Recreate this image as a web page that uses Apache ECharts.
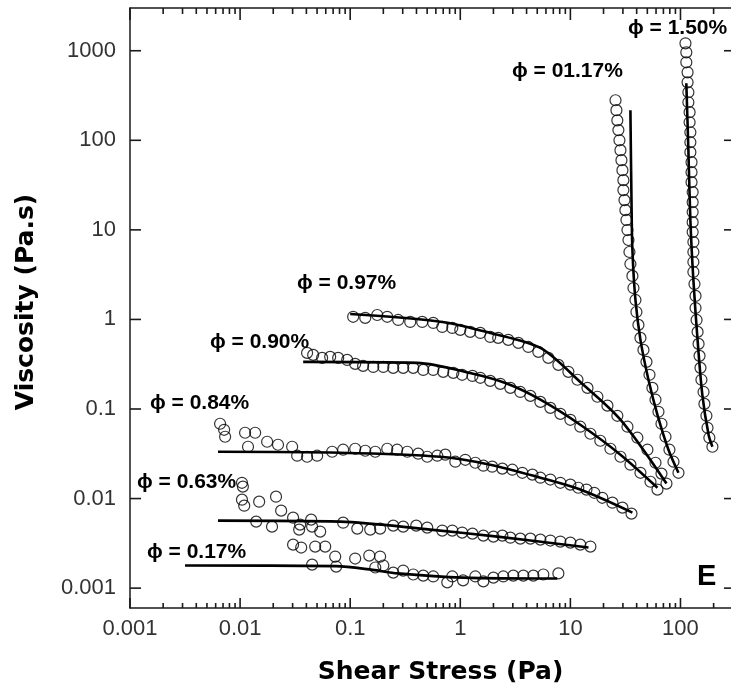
<!DOCTYPE html>
<html>
<head>
<meta charset="utf-8">
<script src="https://cdn.jsdelivr.net/npm/echarts@6/dist/echarts.min.js"></script>
<style>
html, body { margin: 0; padding: 0; background: #fff; }
#chart { width: 731px; height: 694px; }
</style>
</head>
<body>
<div id="chart"></div>
<script>
// shear stress (Pa), viscosity (Pa.s)
var phiLabels = ['\u03d5 = 1.50%', '\u03d5 = 01.17%', '\u03d5 = 0.97%', '\u03d5 = 0.90%', '\u03d5 = 0.84%', '\u03d5 = 0.63%', '\u03d5 = 0.17%'];

var xMajorTicks = [0.001, 0.01, 0.1, 1, 10, 100];
var xMinorTicks = [0.002,0.003,0.004,0.005,0.006,0.007,0.008,0.009,
  0.02,0.03,0.04,0.05,0.06,0.07,0.08,0.09,
  0.2,0.3,0.4,0.5,0.6,0.7,0.8,0.9,
  2,3,4,5,6,7,8,9,
  20,30,40,50,60,70,80,90,
  200];
var yMajorTicks = [0.001, 0.01, 0.1, 1, 10, 100, 1000];

var data017 = [[0.0303,0.00306],[0.0359,0.00284],[0.0481,0.00291],[0.0593,0.00291],[0.0731,0.00225],[0.0451,0.00183],[0.0746,0.00174],[0.111,0.00214],[0.149,0.00231],[0.187,0.00225],[0.169,0.0017],[0.2,0.00179],[0.246,0.00149],[0.303,0.00157],[0.374,0.00142],[0.461,0.00138],[0.568,0.00135],[0.762,0.00116],[0.846,0.00135],[1.06,0.00122],[1.37,0.00135],[1.62,0.00119],[2.0,0.00131],[2.46,0.00135],[3.03,0.00138],[3.74,0.00138],[4.61,0.00138],[5.68,0.00142],[7.78,0.00146]];
var fit017 = [[0.00316,0.00179],[0.0743,0.00176],[0.16,0.0016],[0.27,0.00146],[1.06,0.00131],[7.6,0.00128]];

var data063 = [[0.0104,0.015],[0.0106,0.0136],[0.0104,0.00972],[0.0109,0.00833],[0.0149,0.00923],[0.0212,0.0105],[0.0236,0.00733],[0.014,0.00553],[0.0195,0.00486],[0.0303,0.00612],[0.0351,0.00512],[0.0344,0.0045],[0.0442,0.00582],[0.0451,0.00486],[0.0534,0.00428],[0.0863,0.00538],[0.116,0.00462],[0.152,0.0045],[0.187,0.00462],[0.246,0.00499],[0.303,0.00486],[0.398,0.00499],[0.501,0.00474],[0.686,0.00439],[0.846,0.00439],[1.04,0.00417],[1.29,0.00406],[1.62,0.00386],[2.0,0.00376],[2.41,0.00386],[2.85,0.00366],[3.51,0.00357],[4.33,0.00357],[5.34,0.00348],[6.58,0.0034],[8.11,0.00331],[10,0.00322],[12.3,0.00306],[15.2,0.00291]];
var fit063 = [[0.0063,0.00567],[0.0811,0.00553],[0.533,0.0045],[2.17,0.00376],[14.6,0.00284]];

var data084 = [[0.00658,0.0684],[0.00716,0.0586],[0.00731,0.049],[0.0111,0.0543],[0.0137,0.0543],[0.0118,0.0379],[0.0176,0.0431],[0.0221,0.0399],[0.0297,0.0379],[0.033,0.0301],[0.0406,0.0293],[0.0501,0.0301],[0.0686,0.0333],[0.0863,0.0351],[0.111,0.036],[0.137,0.0342],[0.169,0.0333],[0.217,0.036],[0.267,0.0351],[0.33,0.0333],[0.415,0.0317],[0.501,0.0293],[0.618,0.0301],[0.731,0.0309],[0.901,0.0258],[1.11,0.0271],[1.37,0.0251],[1.62,0.0233],[1.95,0.0227],[2.41,0.0216],[2.97,0.021],[3.66,0.0194],[4.52,0.0185],[5.34,0.0171],[6.58,0.0163],[8.11,0.015],[10,0.0143],[11.8,0.0132],[14.0,0.0126],[16.5,0.0116],[19.5,0.0102],[24.1,0.009],[29.7,0.00792],[35.9,0.00679]];
var fit084 = [[0.0063,0.0333],[0.0811,0.0325],[0.658,0.0293],[1.87,0.0239],[5.34,0.0171],[12.3,0.0126],[36.6,0.00697]];

var data090 = [[0.0406,0.423],[0.0461,0.402],[0.0556,0.372],[0.0658,0.382],[0.0778,0.372],[0.0939,0.353],[0.111,0.319],[0.131,0.303],[0.162,0.295],[0.2,0.295],[0.246,0.288],[0.303,0.288],[0.374,0.288],[0.461,0.273],[0.568,0.273],[0.7,0.26],[0.864,0.253],[1.04,0.241],[1.29,0.234],[1.52,0.223],[1.87,0.206],[2.31,0.191],[2.85,0.172],[3.51,0.155],[4.33,0.14],[5.34,0.12],[6.58,0.103],[8.11,0.0883],[10,0.0758],[12.3,0.0634],[15.2,0.0529],[18.7,0.0442],[23.1,0.036],[28.5,0.0293],[35.1,0.0239],[43.3,0.0194],[53.4,0.0154],[61.8,0.0126]];
var fit090 = [[0.0374,0.336],[0.406,0.327],[1.31,0.247],[2.68,0.191],[5.34,0.127],[12.3,0.0667],[28.5,0.0309],[61.8,0.0132]];

var data097 = [[0.1064,1.07],[0.137,1.04],[0.176,1.12],[0.217,1.07],[0.273,0.987],[0.351,0.938],[0.451,0.938],[0.568,0.914],[0.686,0.825],[0.846,0.804],[1.0,0.764],[1.23,0.726],[1.52,0.707],[1.87,0.638],[2.21,0.622],[2.73,0.591],[3.37,0.547],[4.15,0.493],[5.12,0.434],[6.31,0.372],[7.78,0.311],[9.59,0.26],[11.6,0.212],[14.3,0.172],[17.6,0.137],[21.7,0.109],[26.7,0.084],[33.0,0.0634],[40.6,0.0478],[50.1,0.0351],[59.3,0.0251],[67.2,0.019],[74.6,0.0147]];
var fit097 = [[0.1,1.15],[0.686,0.938],[1.87,0.707],[5.34,0.48],[12.3,0.2],[28.5,0.076],[74.6,0.0147]];

var data117 = [[25.7,280],[26.2,217],[26.7,167],[27.3,130],[27.9,100],[28.5,77.6],[29.1,60.0],[29.7,46.4],[30.3,35.9],[30.3,27.8],[31.0,21.5],[31.6,16.6],[32.3,12.9],[33.0,9.95],[33.7,7.7],[34.4,5.66],[35.1,4.16],[36.6,3.06],[37.4,2.24],[39.0,1.65],[39.8,1.21],[41.5,0.869],[43.3,0.622],[46.1,0.457],[49.1,0.336],[52.3,0.241],[55.6,0.172],[59.3,0.127],[63.1,0.0931],[67.2,0.0684],[73.1,0.049],[79.4,0.0351],[86.4,0.0258],[95.9,0.0194]];
var fit117 = [[35.1,217],[35.9,21.5],[36.6,5.96],[39.0,1.65],[43.3,0.591],[51.2,0.212],[61.8,0.0862],[77.8,0.0351],[95.9,0.0194]];

var data150 = [[111,1210],[113,960],[113,743],[116,574],[116,444],[118,344],[118,266],[121,206],[121,159],[123,123],[123,95.2],[123,73.7],[126,57.0],[126,44.1],[126,34.1],[129,26.4],[129,20.4],[129,15.8],[129,12.2],[129,9.45],[131,7.31],[131,5.66],[131,4.38],[131,3.39],[134,2.49],[137,1.83],[137,1.34],[140,0.987],[143,0.726],[146,0.533],[149,0.392],[152,0.288],[155,0.212],[162,0.155],[165,0.114],[172,0.084],[176,0.0617],[183,0.0478],[195,0.0379]];
var fit150 = [[113,433],[118,77.6],[123,12.9],[131,2.76],[143,0.591],[158,0.144],[180,0.0516],[195,0.0379]];

var tickFont = 'Liberation Sans';
var boldFont = 'DejaVu Sans';
var tickColor = '#1a1a1a';

function decadeLabel(v) {
  var l = Math.log(v) / Math.LN10;
  var r = Math.round(l);
  if (Math.abs(l - r) > 1e-6) return '';
  return r < 0 ? v.toFixed(-r) : String(Math.round(v));
}

var chartDom = document.getElementById('chart');
var chart = echarts.init(chartDom);

function dots(name, d) {
  return {
    name: name, type: 'scatter', data: d, symbol: 'circle', symbolSize: 11,
    itemStyle: { color: 'rgba(255,255,255,0)', borderColor: '#000', borderWidth: 1.2 },
    z: 2
  };
}
function fit(name, d) {
  return {
    name: name, type: 'line', data: d, showSymbol: false, smooth: 0.3,
    lineStyle: { color: '#000', width: 2.6 }, z: 3
  };
}

// ticks drawn inward on both sides of the frame, placed by the axis scale
function tickSeries(values, dir, lenA, lenB) {
  return {
    type: 'custom', silent: true, clip: false, z: 4,
    data: values.map(function (v) { return [v]; }),
    encode: dir === 'x' ? { x: 0 } : { y: 0 },
    renderItem: function (params, api) {
      var cs = params.coordSys;
      var style = { stroke: tickColor, lineWidth: 1.6 };
      if (dir === 'x') {
        var px = api.coord([api.value(0), 1])[0];
        var yb = cs.y + cs.height, yt = cs.y;
        return { type: 'group', children: [
          { type: 'line', shape: { x1: px, y1: yb, x2: px, y2: yb - lenA }, style: style },
          { type: 'line', shape: { x1: px, y1: yt, x2: px, y2: yt + lenB }, style: style }
        ] };
      }
      var py = api.coord([1, api.value(0)])[1];
      var xl = cs.x, xr = cs.x + cs.width;
      return { type: 'group', children: [
        { type: 'line', shape: { x1: xl, y1: py, x2: xl + lenA, y2: py }, style: style },
        { type: 'line', shape: { x1: xr, y1: py, x2: xr - lenB, y2: py }, style: style }
      ] };
    }
  };
}

var option = {
  animation: false,
  grid: { left: 130, right: -2, top: 8, bottom: 86, outerBoundsMode: 'none' },
  xAxis: [{
    type: 'log', min: 0.001, max: 300, position: 'bottom',
    name: 'Shear Stress (Pa)', nameLocation: 'middle', nameGap: 52,
    nameTextStyle: { fontFamily: boldFont, fontWeight: 'bold', fontSize: 25, color: '#000', padding: [0, 0, 0, 18] },
    axisLine: { show: true, onZero: false, lineStyle: { color: tickColor, width: 1.5 } },
    axisTick: { show: false },
    axisLabel: { formatter: decadeLabel, fontFamily: tickFont, fontSize: 22, color: '#333', margin: 10 },
    splitLine: { show: false }
  }, {
    type: 'log', min: 0.001, max: 300, position: 'top',
    axisLine: { show: true, onZero: false, lineStyle: { color: tickColor, width: 1.5 } },
    axisTick: { show: false },
    axisLabel: { show: false },
    splitLine: { show: false }
  }],
  yAxis: [{
    type: 'log', min: 0.0006, max: 3000, position: 'left',
    name: 'Viscosity (Pa.s)', nameLocation: 'middle', nameGap: 91,
    nameTextStyle: { fontFamily: boldFont, fontWeight: 'bold', fontSize: 25, color: '#000', padding: [0, 0, 0, 12] },
    axisLine: { show: true, onZero: false, lineStyle: { color: tickColor, width: 1.5 } },
    axisTick: { show: false },
    axisLabel: { formatter: decadeLabel, fontFamily: tickFont, fontSize: 22, color: '#333', margin: 14 },
    splitLine: { show: false }
  }],
  series: [
    tickSeries(xMajorTicks, 'x', 10, 12),
    tickSeries(xMinorTicks, 'x', 5, 6),
    tickSeries(yMajorTicks, 'y', 11, 9),
    dots(phiLabels[6], data017), dots(phiLabels[5], data063), dots(phiLabels[4], data084),
    dots(phiLabels[3], data090), dots(phiLabels[2], data097), dots(phiLabels[1], data117),
    dots(phiLabels[0], data150),
    fit(phiLabels[6], fit017), fit(phiLabels[5], fit063), fit(phiLabels[4], fit084),
    fit(phiLabels[3], fit090), fit(phiLabels[2], fit097), fit(phiLabels[1], fit117),
    fit(phiLabels[0], fit150)
  ],
  graphic: [
    { type: 'text', x: 628, y: 28, style: { text: phiLabels[0], font: 'bold 21px "Liberation Sans"', fill: '#000', verticalAlign: 'middle' } },
    { type: 'text', x: 512, y: 71, style: { text: phiLabels[1], font: 'bold 21px "Liberation Sans"', fill: '#000', verticalAlign: 'middle' } },
    { type: 'text', x: 297, y: 283, style: { text: phiLabels[2], font: 'bold 21px "Liberation Sans"', fill: '#000', verticalAlign: 'middle' } },
    { type: 'text', x: 210, y: 342, style: { text: phiLabels[3], font: 'bold 21px "Liberation Sans"', fill: '#000', verticalAlign: 'middle' } },
    { type: 'text', x: 150, y: 403, style: { text: phiLabels[4], font: 'bold 21px "Liberation Sans"', fill: '#000', verticalAlign: 'middle' } },
    { type: 'text', x: 137, y: 482, style: { text: phiLabels[5], font: 'bold 21px "Liberation Sans"', fill: '#000', verticalAlign: 'middle' } },
    { type: 'text', x: 147, y: 552, style: { text: phiLabels[6], font: 'bold 21px "Liberation Sans"', fill: '#000', verticalAlign: 'middle' } },
    { type: 'text', x: 697, y: 577, style: { text: 'E', font: 'bold 29px "Liberation Sans"', fill: '#000', verticalAlign: 'middle' } }
  ]
};

chart.setOption(option);
</script>
</body>
</html>
